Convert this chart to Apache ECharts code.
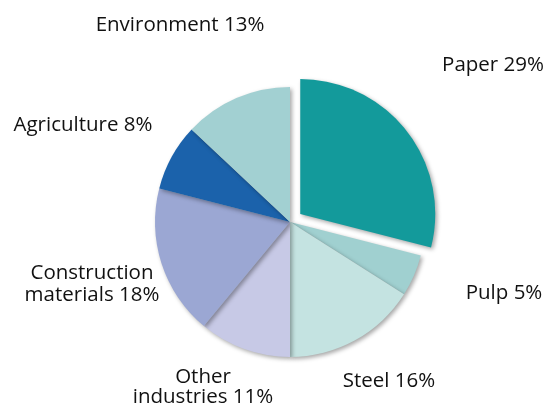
<!DOCTYPE html>
<html>
<head>
<meta charset="utf-8">
<script src="https://cdn.jsdelivr.net/npm/echarts@6/dist/echarts.min.js"></script>
<style>
  html, body { margin: 0; padding: 0; background: #ffffff; }
  #chart { width: 547px; height: 408px; }
</style>
</head>
<body>
<div id="chart"></div>
<script>
// Shares by sector, clockwise from 12 o'clock
const categories = ['Paper', 'Pulp', 'Steel', 'Other\nindustries', 'Construction\nmaterials', 'Agriculture', 'Environment'];
const shares = [29, 5, 16, 11, 18, 8, 13];
const sliceColors = ['#139a9b', '#a0d0d0', '#c4e3e1', '#c7c9e6', '#9ba7d3', '#1b62ab', '#a2d0d2'];

// label anchor points (centre of each text block) and line spacing
const labelAnchors = [
  [493, 65], [504, 293], [389, 381], [203, 387], [92, 284], [83, 125], [180, 25]
];
const labelLineHeights = [22, 22, 22, 20, 22, 22, 22];

const pieCenter = [290, 222];
const pieRadius = 135;

const chart = echarts.init(document.getElementById('chart'), null, { renderer: 'canvas' });

chart.setOption({
  animation: false,
  backgroundColor: '#ffffff',
  series: [
    {
      // slices, with Paper pulled out
      type: 'pie',
      center: pieCenter,
      radius: [0, pieRadius],
      startAngle: 90,
      clockwise: true,
      selectedMode: 'single',
      selectedOffset: 13,
      data: categories.map((name, i) => ({
        name: name,
        value: shares[i],
        selected: i === 0,
        itemStyle: { color: sliceColors[i] }
      })),
      itemStyle: {
        shadowColor: 'rgba(0,0,0,0.35)',
        shadowBlur: 4,
        shadowOffsetX: 2,
        shadowOffsetY: 2
      },
      label: { show: false },
      labelLine: { show: false },
      emphasis: { disabled: true }
    },
    {
      // category labels placed around the pie
      type: 'pie',
      center: pieCenter,
      radius: [0, pieRadius],
      startAngle: 90,
      clockwise: true,
      silent: true,
      z: 3,
      data: categories.map((name, i) => ({
        name: name,
        value: shares[i],
        label: { lineHeight: labelLineHeights[i] }
      })),
      itemStyle: { color: 'rgba(0,0,0,0)' },
      label: {
        show: true,
        position: 'inside',
        formatter: p => p.name + ' ' + p.value + '%',
        fontFamily: 'Open Sans',
        fontSize: 20.5,
        color: '#111111',
        align: 'center',
        overflow: 'none',
        textBorderWidth: 0
      },
      labelLine: { show: false },
      labelLayout: params => ({
        x: labelAnchors[params.dataIndex][0],
        y: labelAnchors[params.dataIndex][1],
        align: 'center',
        verticalAlign: 'middle'
      }),
      emphasis: { disabled: true }
    }
  ]
});
</script>
</body>
</html>
